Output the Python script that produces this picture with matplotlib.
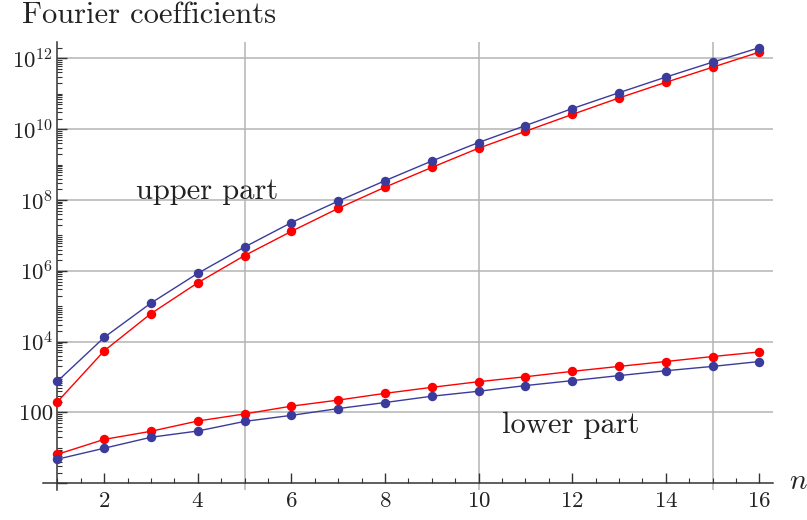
import matplotlib
matplotlib.use("Agg")
import matplotlib.pyplot as plt
from matplotlib.ticker import FixedLocator, NullFormatter

# values
n = list(range(1, 17))
upper_blue = [760, 1.32e4, 1.23e5, 8.5e5, 4.7e6, 2.3e7, 9.3e7, 3.5e8, 1.26e9,
              4.2e9, 1.26e10, 3.8e10, 1.07e11, 2.95e11, 7.8e11, 2.0e12]
upper_red = [200, 5.5e3, 6.2e4, 4.6e5, 2.7e6, 1.3e7, 5.8e7, 2.3e8, 8.3e8,
             2.9e9, 8.7e9, 2.6e10, 7.6e10, 2.1e11, 5.6e11, 1.5e12]
lower_red = [6.6, 17.4, 29.5, 57.5, 91, 151, 224, 347, 513, 741, 1020, 1450,
             2000, 2750, 3800, 5130]
lower_blue = [4.8, 9.8, 20, 30, 56, 83, 129, 191, 288, 398, 575, 794, 1100,
              1510, 2000, 2750]

ytick_vals = [1, 1e2, 1e4, 1e6, 1e8, 1e10, 1e12]
ytick_labels = ['', '100', r'$10^{4}$', r'$10^{6}$', r'$10^{8}$', r'$10^{10}$', r'$10^{12}$']
xtick_vals = [2, 4, 6, 8, 10, 12, 14, 16]
vgrid = [5, 10, 15]
hgrid = [1e2, 1e4, 1e6, 1e8, 1e10, 1e12]

plt.rcParams['font.family'] = ['cmr10', 'DejaVu Serif']
plt.rcParams['mathtext.fontset'] = 'cm'
plt.rcParams['axes.formatter.use_mathtext'] = True

blue = '#3b3b9b'
red = '#ff0000'
axcol = '#333333'
gridcol = '#b4b4b4'
txtcol = '#222222'

fig = plt.figure(figsize=(8.07, 5.2), dpi=100)
ax = fig.add_axes([0.0537, 0.0569, 0.9046, 0.8629])
ax.set_yscale('log')
ax.set_xlim(0.7, 16.3)
ax.set_ylim(10**-0.2, 10**12.47)

for v in vgrid:
    ax.axvline(v, color=gridcol, lw=1.1, zorder=0)
ax.hlines(hgrid, 1, 16.3, color=gridcol, lw=1.1, zorder=0)

for ys, c in [(upper_red, red), (upper_blue, blue), (lower_red, red), (lower_blue, blue)]:
    ax.plot(n, ys, '-', color=c, lw=1.0, zorder=3)
    ax.plot(n, ys, 'o', color=c, ms=6.8, mec='none', zorder=4)

for s in ['top', 'right']:
    ax.spines[s].set_visible(False)
ax.spines['left'].set_position(('data', 1))
ax.spines['bottom'].set_position(('data', 1))
for s in ['left', 'bottom']:
    ax.spines[s].set_color(axcol)
    ax.spines[s].set_linewidth(1.1)

ax.xaxis.set_major_locator(FixedLocator(xtick_vals))
ax.xaxis.set_minor_locator(FixedLocator([x / 2 for x in range(2, 33) if x % 4 != 0]))
ax.yaxis.set_major_locator(FixedLocator(ytick_vals))
ax.yaxis.set_major_formatter(plt.FixedFormatter(ytick_labels))
minor_y = [k * 10.0**d for d in range(0, 13) for k in range(1, 10)
           if not (k == 1 and d % 2 == 0)]
ax.yaxis.set_minor_locator(FixedLocator(minor_y))
ax.yaxis.set_minor_formatter(NullFormatter())
ax.xaxis.set_minor_formatter(NullFormatter())

ax.tick_params(which='major', direction='in', length=7, width=1.0, color=axcol,
               labelsize=16.5, pad=6, labelcolor=txtcol)
ax.tick_params(which='minor', direction='in', length=3.5, width=0.8, color=axcol)
ax.tick_params(axis='y', which='major', pad=3)

fig.text(0.027, 0.97, 'Fourier coefficients', fontsize=22, ha='left', va='center', color=txtcol)
ax.text(2.68, 10**8.25, 'upper part', fontsize=22, ha='left', va='center', color=txtcol)
ax.text(10.5, 10**1.65, 'lower part', fontsize=22, ha='left', va='center', color=txtcol)
fig.text(0.989, 0.073, r'$n$', fontsize=21, ha='center', va='center', color=txtcol)

fig.savefig('out.png', dpi=100)
